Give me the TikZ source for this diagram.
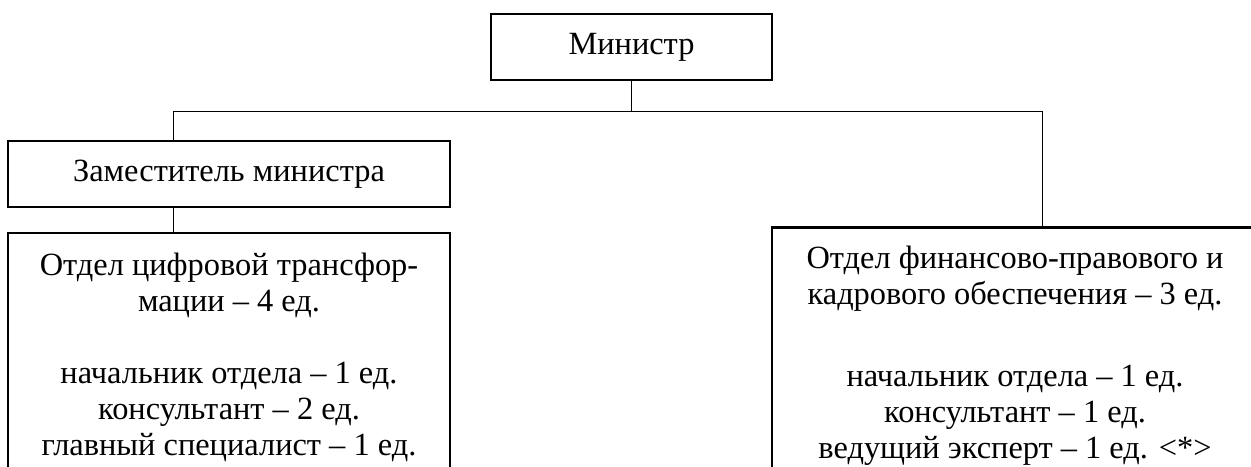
\documentclass[tikz,border=0pt]{standalone}
\usepackage{fontspec}
\setmainfont{Liberation Serif}
\usetikzlibrary{positioning}

\begin{document}
\begin{tikzpicture}[x=0.5pt, y=-0.5pt
    , unit/.style={draw, line width=1.3pt, align=center, inner sep=0pt,
        font=\rmfamily\fontsize{16.2}{18}\selectfont}
    , link/.style={line width=0.5pt}
    ]
    \useasboundingbox (0,0) rectangle (1251,466);
    \clip (0,0) rectangle (1251,466);
    \node[unit, minimum width=140.5pt, minimum height=33pt] (minister) at (631.5,47) {Министр};
    \node[unit, minimum width=221pt, minimum height=33pt] (deputy) at (229,174) {Заместитель министра};
    \node[unit, minimum width=221pt, minimum height=124.5pt] (digital) at (229,357.5)
      {Отдел цифровой трансфор-\\мации – 4 ед.\\[18pt]
       начальник отдела – 1 ед.\\консультант – 2 ед.\\главный специалист – 1 ед.};
    \node[unit, minimum width=243pt, minimum height=128.5pt] (finance) at (1015,356)
      {Отдел финансово-правового и\\кадрового обеспечения – 3 ед.\\[23pt]
       начальник отдела – 1 ед.\\консультант – 1 ед.\\ведущий эксперт – 1 ед. <*>};
    \coordinate (busL) at (173,111);
    \coordinate (busR) at (1042,111);
    \draw[link] (minister) -- (minister |- busL);
    \draw[link] (busL) -- (busR);
    \draw[link] (busL) -- (busL |- deputy.north);
    \draw[link] (busL |- deputy.south) -- (busL |- digital.north);
    \draw[link] (busR) -- (busR |- finance.north);
  \end{tikzpicture}
\end{document}
